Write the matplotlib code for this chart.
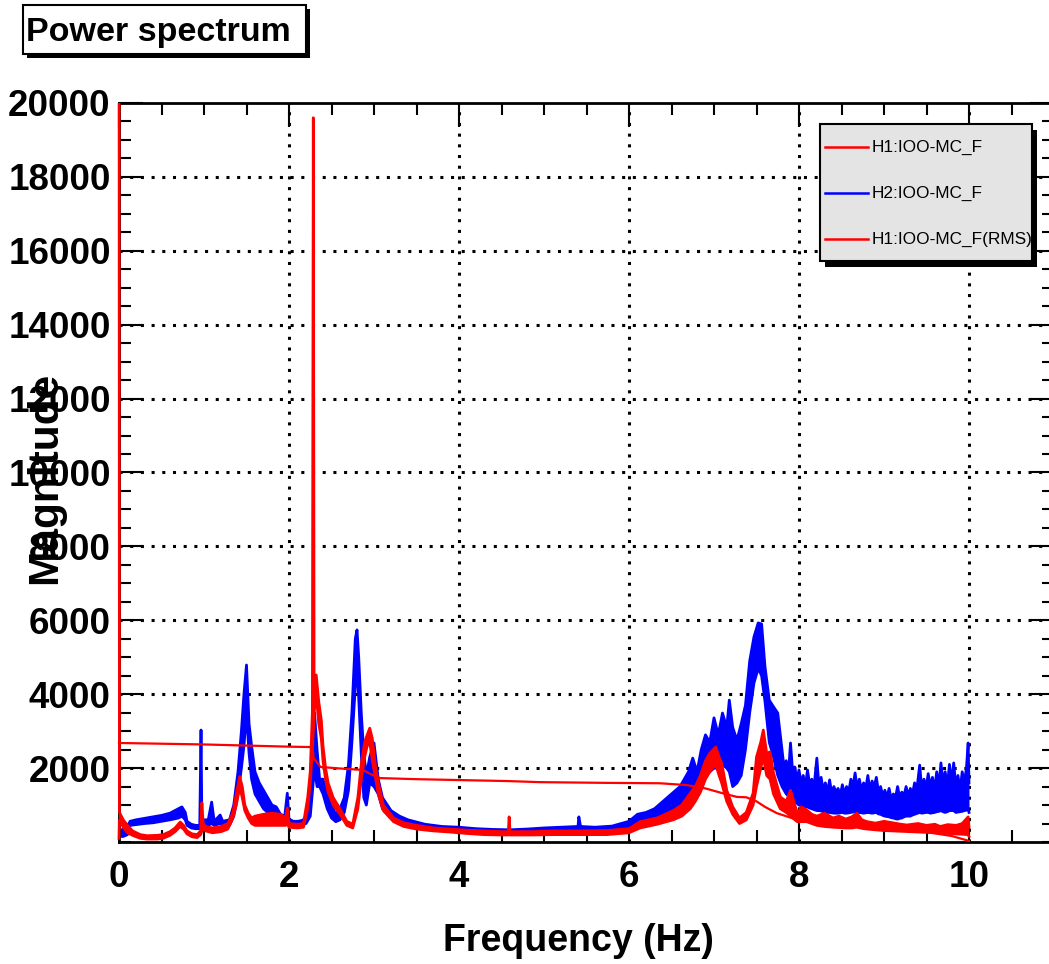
import matplotlib
matplotlib.use("Agg")
import matplotlib.pyplot as plt
from matplotlib.patches import Rectangle
from matplotlib.lines import Line2D
from matplotlib.ticker import MultipleLocator
from matplotlib.transforms import Bbox, TransformedBbox

plt.rcParams['font.family'] = ['Liberation Sans', 'DejaVu Sans']
plt.rcParams['font.weight'] = 'bold'

W, H = 1049, 964

# ---------------- data ----------------
title = "Power spectrum"
x_label = "Frequency (Hz)"
y_label = "Magnitude"
legend_labels = ["H1:IOO-MC_F", "H2:IOO-MC_F", "H1:IOO-MC_F(RMS)"]
x_ticks = [0, 2, 4, 6, 8, 10]
y_ticks = [2000, 4000, 6000, 8000, 10000, 12000, 14000, 16000, 18000, 20000]

# H2:IOO-MC_F (blue) : frequency, lower and upper envelope of the noisy trace
h2_freq = [0.00, 0.05, 0.10, 0.13, 0.20, 0.30, 0.40, 0.50, 0.60, 0.70, 0.74, 0.78, 0.80, 0.85, 0.90,
           0.95, 0.965, 0.975, 1.00, 1.05, 1.09, 1.12, 1.19, 1.22, 1.30, 1.35, 1.40, 1.44, 1.47, 1.50,
           1.53, 1.56, 1.60, 1.65, 1.70, 1.75, 1.80, 1.85, 1.90, 1.95, 1.98, 2.00, 2.05, 2.10, 2.15,
           2.20, 2.25, 2.28, 2.30, 2.33, 2.36, 2.40, 2.45, 2.50, 2.55, 2.60, 2.65, 2.70, 2.74, 2.78,
           2.80, 2.82, 2.85, 2.88, 2.91, 2.95, 3.00, 3.05, 3.10, 3.20, 3.30, 3.40, 3.60, 3.80, 4.00,
           4.20, 4.40, 4.60, 4.80, 5.00, 5.20, 5.40, 5.41, 5.43, 5.60, 5.80, 6.00, 6.10, 6.20, 6.30,
           6.40, 6.50, 6.60, 6.65, 6.70, 6.75, 6.80, 6.85, 6.90, 6.95, 7.00, 7.05, 7.10, 7.15, 7.18,
           7.22, 7.27, 7.32, 7.37, 7.42, 7.47, 7.52, 7.56, 7.60, 7.65, 7.70, 7.75,
           7.80, 7.825, 7.85, 7.875, 7.90, 7.925, 7.95, 7.975, 8.00, 8.025, 8.05, 8.075, 8.10, 8.125,
           8.15, 8.175, 8.21, 8.235, 8.26, 8.285, 8.31, 8.335, 8.36, 8.385, 8.41, 8.435, 8.46, 8.485,
           8.51, 8.535, 8.56, 8.585, 8.61, 8.635, 8.66, 8.685, 8.71, 8.735, 8.76, 8.785, 8.81, 8.835,
           8.86, 8.885, 8.91, 8.935, 8.96, 8.985, 9.01, 9.035, 9.06, 9.085, 9.11, 9.135, 9.16, 9.185,
           9.21, 9.235, 9.26, 9.285, 9.31, 9.335, 9.36, 9.385, 9.42, 9.445, 9.47, 9.495, 9.52, 9.545,
           9.57, 9.595, 9.62, 9.645, 9.67, 9.695, 9.72, 9.745, 9.77, 9.795, 9.82, 9.845, 9.87, 9.895,
           9.92, 9.945, 9.97, 9.99, 10.00]
h2_low = [150, 150, 200, 450, 470, 500, 520, 560, 600, 650, 700, 600, 450, 380, 360,
          360, 400, 380, 450, 450, 500, 450, 500, 450, 450, 700, 1300, 2000, 2600, 3500,
          2400, 1700, 1300, 1100, 900, 800, 700, 650, 600, 550, 650, 500, 450, 450, 470,
          500, 700, 1500, 2000, 1500, 1500, 1300, 900, 650, 550, 600, 800, 1400, 2700, 4200,
          4800, 3900, 2400, 1200, 1000, 1600, 1500, 1300, 900, 650, 550, 470, 380, 320, 280,
          260, 250, 240, 260, 270, 280, 300, 300, 300, 280, 300, 380, 450, 550, 650,
          750, 850, 1000, 1100, 1200, 1300, 1300, 1500, 1800, 1900, 2000, 2000, 2100, 2000, 1900,
          1500, 1600, 1800, 2500, 3500, 4300, 4700, 4500, 3800, 2700, 2300, 1800,
          1500, 1400, 1300, 1250, 1200, 1150, 1100, 1050, 1000, 980, 950, 950, 950, 920,
          900, 880, 850, 850, 840, 820, 800, 800, 800, 790, 780, 780, 780, 790,
          800, 780, 780, 790, 800, 810, 820, 810, 800, 790, 780, 790, 800, 790,
          780, 790, 800, 760, 750, 720, 700, 690, 680, 660, 650, 630, 620, 640,
          650, 680, 700, 700, 700, 730, 750, 770, 800, 780, 790, 800, 800, 780,
          790, 800, 820, 830, 850, 820, 800, 820, 850, 850, 850, 800, 810, 820,
          830, 850, 860, 900, 800]
h2_high = [300, 350, 400, 560, 600, 640, 680, 720, 780, 900, 950, 800, 560, 480, 450,
           450, 3030, 520, 600, 600, 1080, 560, 730, 560, 600, 1000, 1900, 3000, 4000, 4790,
           3200, 2600, 1900, 1600, 1400, 1200, 1000, 950, 750, 700, 1320, 620, 560, 560, 580,
           650, 1500, 3000, 3500, 2500, 1700, 1700, 1300, 1000, 750, 900, 1200, 2100, 3500, 5500,
           5740, 5000, 3500, 2400, 1800, 2300, 2680, 1700, 1200, 850, 700, 600, 480, 420, 400,
           360, 340, 330, 350, 380, 400, 420, 680, 420, 400, 430, 560, 750, 800, 900,
           1100, 1300, 1500, 1700, 1900, 2270, 1900, 2500, 2900, 2700, 3360, 2900, 3490, 3100, 3840,
           3100, 2760, 3200, 3700, 4900, 5550, 5930, 5900, 4740, 3840, 3660, 3490,
           2490, 2000, 2200, 1800, 2680, 1900, 2030, 1700, 1950, 1600, 1800, 1500, 1950, 1550,
           1700, 1450, 2270, 1500, 1750, 1400, 1600, 1350, 1680, 1300, 1500, 1350, 1450, 1250,
           1550, 1300, 1500, 1350, 1700, 1500, 1870, 1450, 1700, 1400, 1600, 1450, 1800, 1400,
           1650, 1500, 1750, 1350, 1500, 1250, 1400, 1200, 1450, 1150, 1300, 1200, 1500, 1200,
           1350, 1250, 1500, 1250, 1450, 1300, 1600, 1400, 2080, 1400, 1700, 1450, 1850, 1500,
           1750, 1400, 1900, 1500, 2140, 1600, 1900, 1500, 2100, 1600, 2140, 1500, 1800, 1400,
           1900, 1600, 2000, 2680, 1600]

# H1:IOO-MC_F (red) : frequency, lower and upper envelope (DC bin off scale)
h1_freq = [0.000, 0.005, 0.05, 0.10, 0.16, 0.25, 0.33, 0.45, 0.52, 0.60, 0.66, 0.72, 0.76, 0.80, 0.86,
           0.92, 0.96, 0.975, 0.99, 1.02, 1.10, 1.20, 1.28, 1.34, 1.38, 1.42, 1.45, 1.48, 1.52, 1.56,
           1.60, 1.70, 1.80, 1.90, 1.96, 1.98, 2.00, 2.10, 2.17, 2.22, 2.25, 2.275, 2.286, 2.295, 2.32,
           2.35, 2.38, 2.40, 2.43, 2.46, 2.52, 2.60, 2.68, 2.75, 2.81, 2.85, 2.89, 2.92, 2.95, 2.98,
           3.02, 3.05, 3.11, 3.23, 3.35, 3.50, 3.70, 3.89, 4.10, 4.29, 4.50, 4.58, 4.59, 4.60, 4.87,
           5.10, 5.40, 5.74, 6.00, 6.13, 6.33, 6.52, 6.62, 6.72, 6.78, 6.84, 6.90, 6.95, 7.02, 7.06,
           7.09, 7.15, 7.22, 7.30, 7.38, 7.46, 7.50, 7.55, 7.58, 7.62, 7.66, 7.70, 7.78, 7.85, 7.90,
           7.98, 8.03, 8.09, 8.15, 8.21, 8.30, 8.40, 8.47, 8.55, 8.62, 8.68, 8.74, 8.80, 8.90, 9.00,
           9.10, 9.20, 9.27, 9.40, 9.50, 9.60, 9.66, 9.75, 9.85, 9.92, 9.99, 10.00]
h1_low = [100, 600, 400, 250, 180, 100, 80, 80, 100, 180, 280, 420, 350, 220, 140,
          120, 200, 300, 350, 300, 250, 280, 350, 650, 1000, 1500, 1200, 850, 650, 500,
          450, 450, 450, 450, 450, 500, 400, 380, 400, 900, 1600, 2500, 3000, 3500, 4000,
          3200, 2800, 2200, 1700, 1350, 1000, 750, 450, 380, 900, 1700, 2300, 2600, 2700, 2200,
          1700, 1300, 850, 550, 420, 350, 300, 270, 230, 200, 190, 190, 200, 190, 190,
          200, 200, 200, 250, 380, 480, 600, 700, 900, 1100, 1350, 1700, 1900, 2100, 1800,
          1600, 1100, 750, 500, 600, 1000, 1500, 2000, 2300, 1800, 1700, 1300, 900, 800, 700,
          550, 550, 550, 500, 450, 420, 400, 390, 380, 380, 400, 370, 350, 330, 310,
          300, 290, 280, 270, 260, 250, 240, 230, 220, 210, 200, 150]
h1_high = [30000, 800, 600, 450, 300, 200, 170, 180, 200, 280, 380, 540, 450, 300, 220,
           200, 300, 1060, 500, 420, 380, 420, 500, 800, 1300, 1770, 1500, 1000, 780, 650,
           700, 750, 780, 750, 650, 920, 500, 480, 500, 1200, 1900, 3500, 19600, 4200, 4520,
           3800, 3300, 2600, 2000, 1600, 1200, 900, 560, 480, 1200, 2100, 2700, 2900, 3080, 2800,
           2000, 1600, 1000, 650, 520, 450, 380, 350, 320, 300, 280, 280, 680, 280, 280,
           300, 300, 310, 360, 550, 650, 850, 1000, 1320, 1500, 1800, 2200, 2400, 2570, 2300,
           2140, 1400, 950, 650, 800, 1320, 2300, 2700, 3030, 2400, 2440, 1870, 1220, 1100, 1400,
           780, 950, 870, 750, 700, 780, 650, 700, 620, 680, 780, 600, 550, 510, 560,
           520, 480, 460, 500, 450, 480, 420, 470, 450, 500, 680, 400]

# H1:IOO-MC_F(RMS) (red, cumulative from high frequency)
rms_freq = [0.00, 0.50, 1.00, 1.50, 2.00, 2.25, 2.28, 2.29, 2.33, 2.37, 2.60, 2.87, 2.95, 3.07, 3.50,
            4.56, 4.95, 5.74, 6.36, 6.68, 6.90, 7.10, 7.27, 7.38, 7.50, 7.60, 7.74, 7.98, 8.50, 9.00,
            9.50, 9.80, 10.00]
rms_vals = [2680, 2660, 2640, 2610, 2580, 2570, 2500, 2270, 2150, 2030, 1990, 1950, 1850, 1730, 1700,
            1650, 1620, 1600, 1590, 1540, 1450, 1320, 1220, 1210, 1100, 950, 780, 600, 470, 380,
            270, 160, 30]

# ---------------- figure ----------------
fig = plt.figure(figsize=(W / 100, H / 100), dpi=100)
fig.patch.set_facecolor('white')


def fx(px):
    return px / W


def fy(py):
    return 1 - py / H


ax = fig.add_axes([fx(119), fy(842), fx(1054) - fx(119), fy(103) - fy(842)])
ax.set_xlim(0, 11)
ax.set_ylim(0, 20000)

red_clip = TransformedBbox(Bbox([[-0.004, 0.0], [1.0, 1.0]]), ax.transAxes)
LW = 2.0

# blue H2
ax.fill_between(h2_freq, h2_low, h2_high, color='#0000ff', lw=0, zorder=3)
ax.plot(h2_freq, h2_high, color='#0000ff', lw=LW, zorder=3)
ax.plot(h2_freq, h2_low, color='#0000ff', lw=LW, zorder=3)

# red H1
fr = ax.fill_between(h1_freq, h1_low, h1_high, color='#ff0000', lw=0, zorder=4)
fr.set_clip_box(red_clip)
l1, = ax.plot(h1_freq, h1_high, color='#ff0000', lw=LW, zorder=4)
l2, = ax.plot(h1_freq, h1_low, color='#ff0000', lw=LW, zorder=4)
l1.set_clip_box(red_clip)
l2.set_clip_box(red_clip)

# RMS
l3, = ax.plot(rms_freq, rms_vals, color='#ff0000', lw=1.6, zorder=4)
l3.set_clip_box(red_clip)

# ticks and grid
ax.set_xticks(x_ticks)
ax.set_xticklabels([str(t) for t in x_ticks])
ax.set_yticks(y_ticks)
ax.set_yticklabels([str(t) for t in y_ticks])
ax.xaxis.set_minor_locator(MultipleLocator(0.5))
ax.yaxis.set_minor_locator(MultipleLocator(500))
for xv in x_ticks[1:]:
    ax.axvline(xv, color='black', lw=2.2, linestyle=(0, (1, 2.5)), zorder=1)
for yv in y_ticks[:-1]:
    ax.axhline(yv, color='black', lw=2.2, linestyle=(0, (1, 2.5)), zorder=1)

for s in ax.spines.values():
    s.set_linewidth(2.0)
    s.set_zorder(3.5)

ax.tick_params(which='both', direction='in', top=True, right=True, width=1.5, colors='black')
ax.tick_params(which='major', length=17, labelsize=26.5)
ax.tick_params(axis='x', which='major', pad=13)
ax.tick_params(axis='y', which='major', pad=6)
ax.tick_params(which='minor', length=8.5)
for lab in ax.get_xticklabels() + ax.get_yticklabels():
    lab.set_fontweight('bold')

# axis titles
fig.text(fx(578), fy(941), x_label, ha='center', va='center', fontsize=27, fontweight='bold')
fig.text(fx(45), fy(478), y_label, ha='center', va='center', rotation=90, fontsize=30.5, fontweight='bold')

# title box with shadow
tb_l, tb_t, tb_r, tb_b = 23, 5, 306, 54
fig.patches.append(Rectangle((fx(tb_l + 4), fy(tb_b + 4)), fx(tb_r) - fx(tb_l), fy(tb_t) - fy(tb_b),
                             transform=fig.transFigure, facecolor='black', edgecolor='black', lw=0, zorder=5))
fig.patches.append(Rectangle((fx(tb_l), fy(tb_b)), fx(tb_r) - fx(tb_l), fy(tb_t) - fy(tb_b),
                             transform=fig.transFigure, facecolor='white', edgecolor='black', lw=1.5, zorder=6))
fig.text(fx(158), fy(32), title, ha='center', va='center', fontsize=24.5, fontweight='bold', zorder=7)

# legend box with shadow
lg_l, lg_t, lg_r, lg_b = 820, 124, 1032, 261
fig.patches.append(Rectangle((fx(lg_l + 5), fy(lg_b + 6)), fx(lg_r) - fx(lg_l), fy(lg_t) - fy(lg_b),
                             transform=fig.transFigure, facecolor='black', edgecolor='black', lw=0, zorder=5))
fig.patches.append(Rectangle((fx(lg_l), fy(lg_b)), fx(lg_r) - fx(lg_l), fy(lg_t) - fy(lg_b),
                             transform=fig.transFigure, facecolor='#e4e4e4', edgecolor='black', lw=1.5, zorder=6))
legend_colors = ['#ff0000', '#0000ff', '#ff0000']
legend_y = [147, 193, 239]
for lab, col, yy in zip(legend_labels, legend_colors, legend_y):
    fig.lines.append(Line2D([fx(825), fx(868)], [fy(yy), fy(yy)], transform=fig.transFigure,
                            color=col, lw=1.8, zorder=7))
    fig.text(fx(872), fy(yy), lab, ha='left', va='center', fontsize=12.4, fontweight='normal', zorder=7)

fig.savefig('out.png', dpi=100)
